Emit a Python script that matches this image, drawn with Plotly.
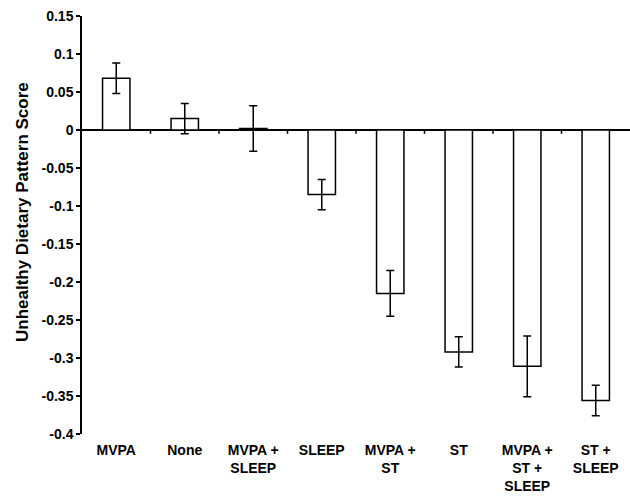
import plotly.graph_objects as go

categories = ["MVPA", "None", "MVPA +<br>SLEEP", "SLEEP", "MVPA +<br>ST", "ST",
              "MVPA +<br>ST +<br>SLEEP", "ST +<br>SLEEP"]
values = [0.068, 0.015, 0.002, -0.085, -0.215, -0.292, -0.311, -0.356]
errors = [0.020, 0.020, 0.030, 0.020, 0.030, 0.020, 0.040, 0.020]
y_ticks = [0.15, 0.1, 0.05, 0, -0.05, -0.1, -0.15, -0.2, -0.25, -0.3, -0.35, -0.4]
y_title = "Unhealthy Dietary Pattern Score"
y_min, y_max = -0.4, 0.15

font = "Liberation Sans, Arial, sans-serif"
n = len(categories)
boundaries = [i + 0.5 for i in range(n - 1)]   # category-axis tick positions
tick_len = 0.005                                 # zero-line tick length (y units)

fig = go.Figure()
fig.add_trace(go.Bar(
    x=list(range(n)), y=values, width=0.4,
    marker=dict(color="white", line=dict(color="black", width=1.5)),
    error_y=dict(type="data", array=errors, visible=True, color="black",
                 thickness=1.5, width=4),
    showlegend=False, hoverinfo="skip",
))
# category-boundary tick marks hanging below the zero line
fig.add_trace(go.Scatter(
    x=boundaries, y=[0] * len(boundaries), mode="markers",
    marker=dict(size=1, opacity=0),
    error_y=dict(type="data", symmetric=False, array=[0] * len(boundaries),
                 arrayminus=[tick_len] * len(boundaries), visible=True,
                 color="black", thickness=1.5, width=0),
    showlegend=False, hoverinfo="skip",
))

fig.update_layout(
    width=630, height=498,
    margin=dict(l=82, r=0, t=16, b=64),
    plot_bgcolor="white", paper_bgcolor="white",
    font=dict(family=font, color="black"),
    xaxis=dict(range=[-0.5, n - 0.5],
               tickvals=list(range(n)), ticktext=["<b>%s</b>" % c for c in categories],
               showline=False, showgrid=False, zeroline=False, ticks="",
               tickfont=dict(size=14, family=font), ticklabelstandoff=6,
               automargin=False, fixedrange=True),
    yaxis=dict(range=[y_min, y_max], tickvals=y_ticks,
               ticktext=["<b>%g</b>" % v for v in y_ticks],
               showline=True, linecolor="black", linewidth=1.5,
               ticks="outside", ticklen=4, tickwidth=1.5, tickcolor="black",
               showgrid=False, zeroline=True, zerolinecolor="black",
               zerolinewidth=1.5, automargin=False,
               tickfont=dict(size=14, family=font), fixedrange=True),
    annotations=[dict(text="<b>%s</b>" % y_title, textangle=-90,
                      xref="paper", yref="paper", x=-0.1095, y=0.531,
                      xanchor="center", yanchor="middle", showarrow=False,
                      font=dict(size=17, family=font, color="black"))],
)

fig.write_html("out.html", config={"displayModeBar": False})

# remove the browser's default body margin so the figure sits at the page origin
with open("out.html", "r", encoding="utf-8") as f:
    html = f.read()
html = html.replace("<body>", '<body style="margin:0;overflow:hidden">', 1)
with open("out.html", "w", encoding="utf-8") as f:
    f.write(html)
